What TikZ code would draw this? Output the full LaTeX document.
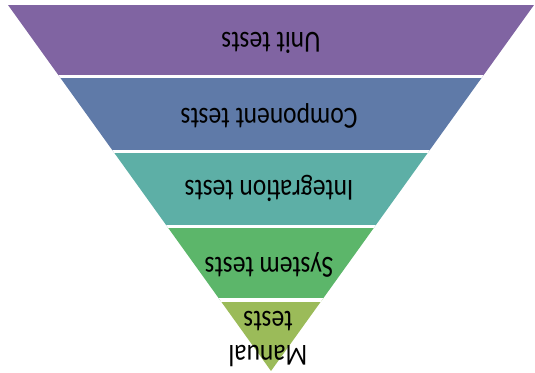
\documentclass[tikz,border=0pt]{standalone}
\usepackage{fontspec}
\setmainfont{Carlito}
\definecolor{unitcol}{HTML}{8064A2}
\definecolor{compcol}{HTML}{5F7AA8}
\definecolor{integcol}{HTML}{5DAFA6}
\definecolor{syscol}{HTML}{5CB66A}
\definecolor{mancol}{HTML}{9BBB59}
\newcommand{\tall}[1]{\scalebox{1}[1.2]{#1}}
\tikzset{layertext/.style={rotate=180, align=center, inner sep=0pt,
  font=\fontsize{25.5}{30}\selectfont, text=black}}
\begin{document}
\begin{tikzpicture}[x=1pt,y=-1pt]
\useasboundingbox (0,0) rectangle (535,372);
\begin{scope}
\clip (8,5)--(534,5)--(271,371)--cycle;
\fill[unitcol] (0,0) rectangle (535,76.5);
\fill[compcol] (0,76.5) rectangle (535,151.5);
\fill[integcol] (0,151.5) rectangle (535,226.5);
\fill[syscol] (0,226.5) rectangle (535,300);
\fill[mancol] (0,300) rectangle (535,372);
\draw[white, line width=3pt] (0,76.5)--(535,76.5);
\draw[white, line width=3pt] (0,151.5)--(535,151.5);
\draw[white, line width=3pt] (0,226.5)--(535,226.5);
\draw[white, line width=3.5pt] (0,300)--(535,300);
\end{scope}
\node[layertext] (unit) at (271,43) {\tall{Unit tests}};
\node[layertext] (comp) at (269,116) {\tall{Component tests}};
\node[layertext] (integ) at (269,188) {\tall{Integration tests}};
\node[layertext] (sys) at (269,265) {\tall{System tests}};
\node[layertext] (man) at (268,339) {\tall{Manual}\\[4pt]\tall{tests}};
\end{tikzpicture}
\end{document}
